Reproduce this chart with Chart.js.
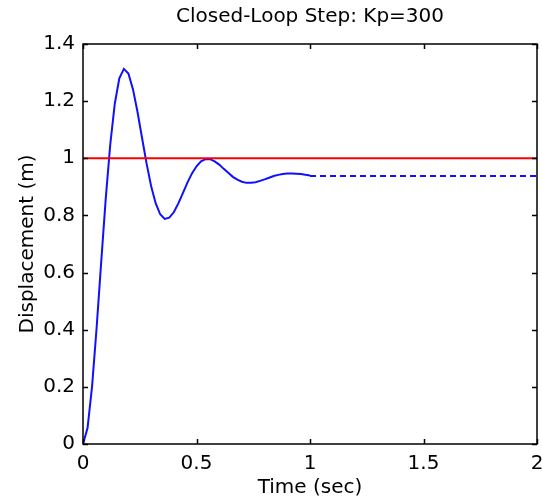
<!DOCTYPE html>
<html>
<head>
<meta charset="utf-8">
<script src="https://cdn.jsdelivr.net/npm/chart.js@4.4.1/dist/chart.umd.min.js"></script>
<style>
  html, body { margin: 0; padding: 0; background: #fff; }
  #wrap { width: 542px; height: 504px; }
</style>
</head>
<body>
<div id="wrap"><canvas id="stepChart"></canvas></div>
<script>
// closed-loop step response, Kp = 300
const timeSec = [0, 0.02, 0.04, 0.06, 0.08, 0.1, 0.12, 0.14, 0.16, 0.18, 0.2,
  0.22, 0.24, 0.26, 0.28, 0.3, 0.32, 0.34, 0.36, 0.38, 0.4,
  0.42, 0.44, 0.46, 0.48, 0.5, 0.52, 0.54, 0.56, 0.58, 0.6,
  0.62, 0.64, 0.66, 0.68, 0.7, 0.72, 0.74, 0.76, 0.78, 0.8,
  0.82, 0.84, 0.86, 0.88, 0.9, 0.92, 0.94, 0.96, 0.98, 1.0];
const displacement = [0, 0.056, 0.202, 0.407, 0.635, 0.857, 1.048, 1.191, 1.28, 1.313, 1.297,
  1.242, 1.163, 1.072, 0.982, 0.903, 0.843, 0.804, 0.788, 0.792, 0.811,
  0.842, 0.878, 0.915, 0.947, 0.972, 0.989, 0.997, 0.997, 0.989, 0.978,
  0.963, 0.949, 0.935, 0.925, 0.918, 0.914, 0.914, 0.916, 0.921, 0.926,
  0.932, 0.938, 0.942, 0.945, 0.947, 0.947, 0.946, 0.945, 0.942, 0.94];

// steady-state tail (dashed)
const tailTime = [1.0, 2.0];
const tailValue = [0.938, 0.938];

// reference input
const refTime = [0, 2];
const refValue = [1, 1];

const xTicks = [0, 0.5, 1, 1.5, 2];
const yTicks = [0, 0.2, 0.4, 0.6, 0.8, 1, 1.2, 1.4];

const toPoints = (xs, ys) => xs.map((x, i) => ({ x, y: ys[i] }));

const FONT = { family: "'DejaVu Sans', sans-serif", size: 20 };

// matlab style box with inward ticks
const boxPlugin = {
  id: "matlabBox",
  afterDraw(chart) {
    const { ctx, chartArea: a, scales } = chart;
    const len = 5;
    ctx.save();
    ctx.strokeStyle = "#000";
    ctx.lineWidth = 1.5;
    ctx.strokeRect(a.left, a.top, a.right - a.left, a.bottom - a.top);
    ctx.beginPath();
    xTicks.forEach((v) => {
      const px = Math.round(scales.x.getPixelForValue(v)) + 0.5;
      ctx.moveTo(px, a.bottom);
      ctx.lineTo(px, a.bottom - len);
      ctx.moveTo(px, a.top);
      ctx.lineTo(px, a.top + len);
    });
    yTicks.forEach((v) => {
      const py = Math.round(scales.y.getPixelForValue(v)) + 0.5;
      ctx.moveTo(a.left, py);
      ctx.lineTo(a.left + len, py);
      ctx.moveTo(a.right, py);
      ctx.lineTo(a.right - len, py);
    });
    ctx.stroke();
    ctx.restore();
  }
};

new Chart(document.getElementById("stepChart"), {
  type: "line",
  data: {
    datasets: [
      {
        label: "Reference",
        data: toPoints(refTime, refValue),
        borderColor: "#ff0000",
        borderWidth: 2,
        pointRadius: 0
      },
      {
        label: "Step response",
        data: toPoints(timeSec, displacement),
        borderColor: "#1010ff",
        borderWidth: 2,
        pointRadius: 0,
        tension: 0
      },
      {
        label: "Steady state",
        data: toPoints(tailTime, tailValue),
        borderColor: "#1010ff",
        borderWidth: 2,
        borderDash: [6, 4],
        pointRadius: 0
      }
    ]
  },
  options: {
    responsive: true,
    maintainAspectRatio: false,
    animation: false,
    layout: { padding: { left: 0, right: 5, top: 0, bottom: 0 } },
    plugins: {
      legend: { display: false },
      tooltip: { enabled: false },
      title: {
        display: true,
        text: "Closed-Loop Step: Kp=300",
        fullSize: false,
        color: "#000",
        font: { ...FONT, weight: "normal" },
        padding: { top: 5, bottom: 15 }
      }
    },
    scales: {
      x: {
        type: "linear",
        min: 0,
        max: 2,
        afterBuildTicks: (s) => { s.ticks = xTicks.map((v) => ({ value: v })); },
        afterFit: (s) => { s.height = 60; s.paddingRight = 0; s.paddingLeft = 0; },
        ticks: {
          color: "#000",
          font: FONT,
          padding: 8,
          maxRotation: 0,
          callback: (v) => String(v)
        },
        grid: { display: false, drawTicks: false },
        border: { display: false },
        title: {
          display: true,
          text: "Time (sec)",
          color: "#000",
          font: FONT,
          padding: { top: 0, bottom: 4 }
        }
      },
      y: {
        min: 0,
        max: 1.4,
        afterBuildTicks: (s) => { s.ticks = yTicks.map((v) => ({ value: v })); },
        afterFit: (s) => { s.width = 83; },
        ticks: {
          color: "#000",
          font: FONT,
          padding: 8,
          callback: (v) => String(v)
        },
        grid: { display: false, drawTicks: false },
        border: { display: false },
        title: {
          display: true,
          text: "Displacement (m)",
          color: "#000",
          font: FONT,
          padding: { top: 16, bottom: 0 }
        }
      }
    }
  },
  plugins: [boxPlugin]
});
</script>
</body>
</html>
